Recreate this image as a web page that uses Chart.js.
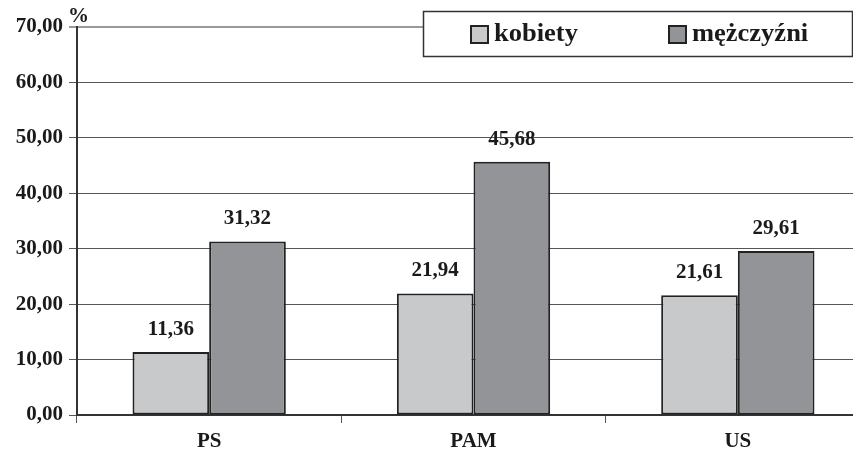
<!DOCTYPE html>
<html><head><meta charset="utf-8">
<script src="https://cdn.jsdelivr.net/npm/chart.js@4/dist/chart.umd.min.js"></script>
<style>html,body{margin:0;padding:0;overflow:hidden;background:#fff}#wrap{width:870px;height:459px}</style>
</head><body><div id="wrap"><canvas id="c" width="870" height="459"></canvas></div>
<script>
const categories = ['PS', 'PAM', 'US'];
const kobiety = [11.36, 21.94, 21.61];
const mezczyzni = [31.32, 45.68, 29.61];
const seriesNames = ['kobiety', 'mężczyźni'];
const yTicks = [0, 10, 20, 30, 40, 50, 60, 70];
const unitLabel = '%';

const FONT = '"Liberation Serif", "Times New Roman", serif';
const fmt = v => v.toFixed(2).replace('.', ',');

const overlay = {
  id: 'overlay',
  afterDatasetsDraw(chart) {
    const ctx = chart.ctx;
    ctx.save();
    ctx.font = 'bold 21px ' + FONT;
    ctx.fillStyle = '#1a1a1a';
    ctx.textAlign = 'center';
    ctx.textBaseline = 'bottom';
    chart.data.datasets.forEach((ds, i) => {
      chart.getDatasetMeta(i).data.forEach((bar, j) => {
        ctx.fillText(fmt(ds.data[j]), bar.x, bar.y - 12);
      });
    });
    ctx.restore();
  },
  afterDraw(chart) {
    const ctx = chart.ctx;
    ctx.save();
    // unit label
    ctx.font = 'bold 21px ' + FONT;
    ctx.fillStyle = '#1a1a1a';
    ctx.textAlign = 'left';
    ctx.textBaseline = 'alphabetic';
    ctx.fillText(unitLabel, 68, 22);
    // legend box
    const bx = 423.5, by = 11.5, bw = 429, bh = 45;
    ctx.fillStyle = '#fff';
    ctx.fillRect(bx, by, bw, bh);
    ctx.strokeStyle = '#333';
    ctx.lineWidth = 1.5;
    ctx.strokeRect(bx, by, bw, bh);
    const items = [
      {x: 471, label: chart.data.datasets[0].label, color: chart.data.datasets[0].backgroundColor},
      {x: 669, label: chart.data.datasets[1].label, color: chart.data.datasets[1].backgroundColor}
    ];
    ctx.font = 'bold 25px ' + FONT;
    ctx.textBaseline = 'middle';
    items.forEach(it => {
      ctx.fillStyle = it.color;
      ctx.fillRect(it.x, 26, 17, 17);
      ctx.strokeStyle = '#222';
      ctx.lineWidth = 2;
      ctx.strokeRect(it.x, 26, 17, 17);
      ctx.fillStyle = '#1a1a1a';
      ctx.save();
      ctx.translate(it.x + 23, 35);
      ctx.scale(1.06, 1);
      ctx.fillText(it.label, 0, 0);
      ctx.restore();
    });
    ctx.restore();
  }
};

new Chart(document.getElementById('c'), {
  type: 'bar',
  data: {
    labels: categories,
    datasets: [
      {label: seriesNames[0], data: kobiety, backgroundColor: '#c8c9cb', borderColor: '#222', borderWidth: 2, borderSkipped: false},
      {label: seriesNames[1], data: mezczyzni, backgroundColor: '#939497', borderColor: '#222', borderWidth: 2, borderSkipped: false}
    ]
  },
  options: {
    responsive: false,
    animation: false,
    devicePixelRatio: 1,
    layout: {padding: {top: 27, right: 0, left: 0, bottom: 0}},
    datasets: {bar: {categoryPercentage: 0.58, barPercentage: 1.0}},
    plugins: {legend: {display: false}, tooltip: {enabled: false}},
    scales: {
      x: {
        grid: {drawOnChartArea: false, offset: true, tickLength: 8, color: '#555'},
        border: {color: '#333', width: 2},
        ticks: {font: {family: FONT, size: 21, weight: 'bold'}, color: '#1a1a1a', padding: 6},
        afterFit: s => { s.height = 44; }
      },
      y: {
        min: 0, max: 70,
        afterBuildTicks: s => { s.ticks = yTicks.map(v => ({value: v})); },
        grid: {
          color: c => c.tick && c.tick.value === 70 ? '#999' : '#555',
          lineWidth: c => c.tick && c.tick.value === 70 ? 2 : 1,
          tickLength: 8
        },
        border: {color: '#333', width: 2},
        ticks: {font: {family: FONT, size: 21, weight: 'bold'}, color: '#1a1a1a', padding: 6, callback: v => fmt(v)},
        afterFit: s => { s.width = 77; }
      }
    }
  },
  plugins: [overlay]
});
</script>
</body></html>
